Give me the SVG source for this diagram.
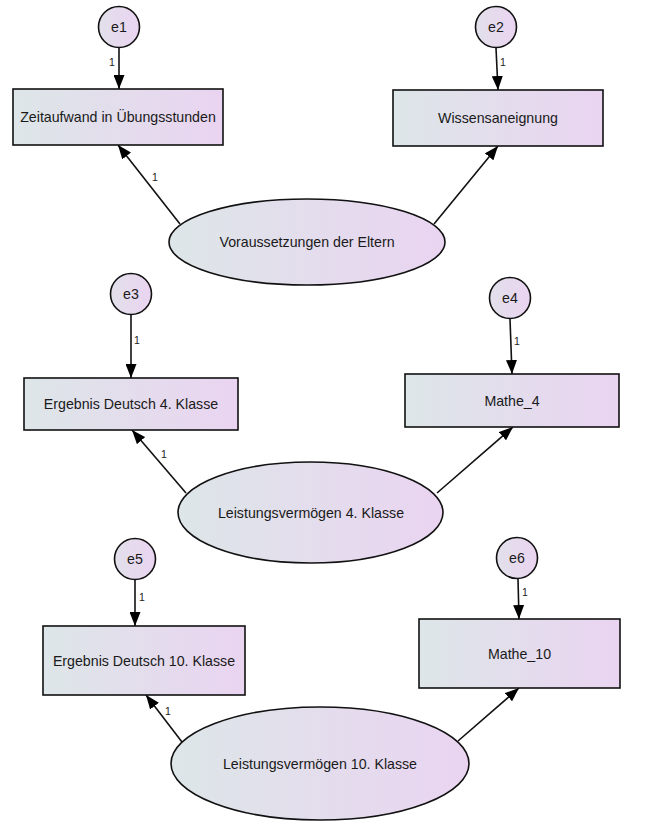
<svg xmlns="http://www.w3.org/2000/svg" width="648" height="833" viewBox="0 0 648 833">
<defs>
<linearGradient id="g" x1="0" y1="0" x2="1" y2="0">
<stop offset="0" stop-color="#dde6e8"/>
<stop offset="1" stop-color="#ead4f1"/>
</linearGradient>
<linearGradient id="gc" x1="0" y1="0" x2="1" y2="0">
<stop offset="0" stop-color="#e2e0ea"/>
<stop offset="1" stop-color="#ead4f1"/>
</linearGradient>
<marker id="ah" markerUnits="userSpaceOnUse" markerWidth="14" markerHeight="11" refX="14" refY="5.5" orient="auto">
<path d="M0,0 L14,5.5 L0,11 z" fill="#000"/>
</marker>
<style>
.shape{fill:url(#g);stroke:#111;stroke-width:1.6}
.circ{fill:url(#gc);stroke:#111;stroke-width:1.6}
.t{font-family:"Liberation Sans",Arial,sans-serif;font-size:14.2px;fill:#1a1a1a;text-anchor:middle;dominant-baseline:central}
.l{font-family:"Liberation Sans",Arial,sans-serif;font-size:10.5px;fill:#222;text-anchor:middle;dominant-baseline:central}
.c{stroke:#111;stroke-width:1.6;fill:none;marker-end:url(#ah)}
</style>
</defs>
<rect width="648" height="833" fill="#fff"/>
<g id="connectors">
<line class="c" x1="119" y1="48" x2="119" y2="89"/>
<line class="c" x1="496" y1="48" x2="498" y2="90"/>
<line class="c" x1="180" y1="224" x2="118" y2="145"/>
<line class="c" x1="434" y1="224" x2="498" y2="146"/>
<line class="c" x1="131" y1="315" x2="131" y2="378"/>
<line class="c" x1="510" y1="319" x2="512" y2="374"/>
<line class="c" x1="186" y1="493" x2="132" y2="430"/>
<line class="c" x1="437" y1="493" x2="513" y2="427"/>
<line class="c" x1="135" y1="580" x2="135" y2="626"/>
<line class="c" x1="518" y1="579" x2="519" y2="619"/>
<line class="c" x1="182" y1="742" x2="146" y2="695"/>
<line class="c" x1="458" y1="741" x2="519" y2="688"/>
<text class="l" x="112" y="62">1</text>
<text class="l" x="503" y="62">1</text>
<text class="l" x="155" y="177">1</text>
<text class="l" x="137" y="340">1</text>
<text class="l" x="517" y="341">1</text>
<text class="l" x="164" y="454">1</text>
<text class="l" x="142" y="597">1</text>
<text class="l" x="525" y="592">1</text>
<text class="l" x="168" y="711">1</text>
</g>
<g id="e1"><circle class="circ" cx="119" cy="27" r="20.5"/><text class="t" x="119" y="27">e1</text></g>
<g id="e2"><circle class="circ" cx="496" cy="27" r="20.5"/><text class="t" x="496" y="27">e2</text></g>
<g id="e3"><circle class="circ" cx="131" cy="294" r="20.5"/><text class="t" x="131" y="294">e3</text></g>
<g id="e4"><circle class="circ" cx="510" cy="298" r="20.5"/><text class="t" x="510" y="298">e4</text></g>
<g id="e5"><circle class="circ" cx="135" cy="559" r="20.5"/><text class="t" x="135" y="559">e5</text></g>
<g id="e6"><circle class="circ" cx="517" cy="558" r="20.5"/><text class="t" x="517" y="558">e6</text></g>
<g id="zeitaufwand"><rect class="shape" x="13" y="89" width="210" height="56"/><text class="t" x="118" y="117">Zeitaufwand in Übungsstunden</text></g>
<g id="wissensaneignung"><rect class="shape" x="393" y="90" width="210" height="56"/><text class="t" x="498" y="118">Wissensaneignung</text></g>
<g id="voraussetzungen"><ellipse class="shape" cx="307" cy="242" rx="138" ry="43"/><text class="t" x="307" y="242">Voraussetzungen der Eltern</text></g>
<g id="deutsch4"><rect class="shape" x="24" y="378" width="214" height="52"/><text class="t" x="131" y="404">Ergebnis Deutsch 4. Klasse</text></g>
<g id="mathe4"><rect class="shape" x="405" y="374" width="214" height="53"/><text class="t" x="512" y="401">Mathe_4</text></g>
<g id="leistung4"><ellipse class="shape" cx="310.5" cy="512.5" rx="132.5" ry="50.5"/><text class="t" x="311" y="513">Leistungsvermögen 4. Klasse</text></g>
<g id="deutsch10"><rect class="shape" x="43" y="626" width="202" height="69"/><text class="t" x="144" y="661">Ergebnis Deutsch 10. Klasse</text></g>
<g id="mathe10"><rect class="shape" x="419" y="619" width="201" height="69"/><text class="t" x="519.5" y="654">Mathe_10</text></g>
<g id="leistung10"><ellipse class="shape" cx="320" cy="763.5" rx="149" ry="56.5"/><text class="t" x="320" y="764">Leistungsvermögen 10. Klasse</text></g>
</svg>
